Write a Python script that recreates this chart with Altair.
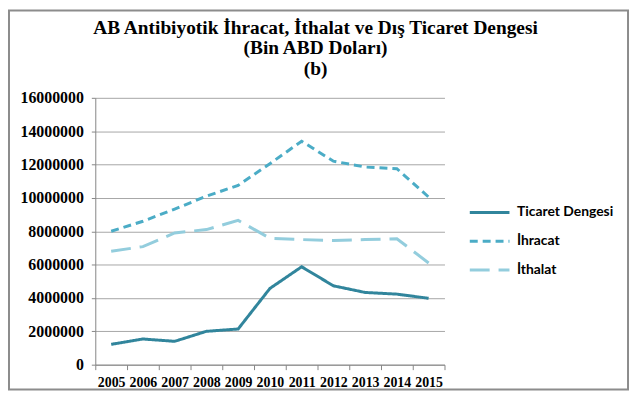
import altair as alt
import pandas as pd

years = ["2005", "2006", "2007", "2008", "2009", "2010", "2011", "2012", "2013", "2014", "2015"]
ticaret = [1220000, 1540000, 1400000, 2000000, 2140000, 4570000, 5870000, 4730000, 4330000, 4230000, 3980000]
ihracat = [8000000, 8600000, 9330000, 10100000, 10750000, 12050000, 13400000, 12200000, 11850000, 11750000, 10050000]
ithalat = [6800000, 7080000, 7900000, 8100000, 8650000, 7580000, 7500000, 7450000, 7500000, 7550000, 6100000]
series_names = ["Ticaret Dengesi", "İhracat", "İthalat"]
title_lines = ["AB Antibiyotik İhracat, İthalat ve Dış Ticaret Dengesi", "(Bin ABD Doları)", "(b)"]
colors = ["#31859C", "#4BACC6", "#93CDDD"]
dashes = [[1, 0], [8, 5], [20, 9]]
y_ticks = [0, 2000000, 4000000, 6000000, 8000000, 10000000, 12000000, 14000000, 16000000]

rows = []
for name, vals in zip(series_names, [ticaret, ihracat, ithalat]):
    for yr, v in zip(years, vals):
        rows.append({"Yıl": yr, "Değer": v, "Seri": name})
df = pd.DataFrame(rows)

W, H = 352, 269
PL, PT, PR, PB = 88, 89, 187, 27

lines = alt.Chart(df).mark_line(strokeWidth=3).encode(
    x=alt.X("Yıl:N", sort=years, scale=alt.Scale(paddingInner=0, paddingOuter=0, domain=years), axis=alt.Axis(
        title=None, labelAngle=0, tickBand="extent", tickSize=5, labelPadding=6,
        labelFont="Liberation Serif", labelFontWeight="bold", labelFontSize=14, labelColor="#000000",
        domainColor="#868686", tickColor="#868686", grid=False)),
    y=alt.Y("Değer:Q", scale=alt.Scale(domain=[0, 16000000], nice=False), axis=alt.Axis(
        title=None, values=y_ticks, format="d", tickSize=4, labelPadding=8,
        labelFont="Liberation Serif", labelFontWeight="bold", labelFontSize=16, labelColor="#000000",
        domainColor="#868686", tickColor="#868686", gridColor="#A6A6A6", gridWidth=1)),
    color=alt.Color("Seri:N", scale=alt.Scale(domain=series_names, range=colors), sort=series_names,
                    legend=alt.Legend(title=None)),
    strokeDash=alt.StrokeDash("Seri:N", scale=alt.Scale(domain=series_names, range=dashes), sort=series_names,
                              legend=alt.Legend(title=None)),
)

frame_df = pd.DataFrame({"k": [0]})
frame = alt.Chart(frame_df).mark_rect(fill=None, stroke="#8C8C8C", strokeWidth=2).encode(
    x=alt.value(-PL + 1), x2=alt.value(W + PR - 2), y=alt.value(-PT + 1), y2=alt.value(H + PB - 2)
)

title_y = [-64, -44, -23]
title_layers = []
for txt, ty in zip(title_lines, title_y):
    tdf = pd.DataFrame({"t": [txt]})
    title_layers.append(
        alt.Chart(tdf).mark_text(font="Liberation Serif", fontSize=19.5, fontWeight="bold", color="#000000",
                                 align="center", baseline="alphabetic").encode(
            text="t:N", x=alt.value(222), y=alt.value(ty))
    )

chart = alt.layer(frame, *title_layers, lines).properties(
    width=W, height=H,
    padding={"left": PL, "top": PT, "right": PR, "bottom": PB},
    autosize=alt.AutoSizeParams(type="none"),
).configure_view(stroke=None).configure_legend(
    orient="none", legendX=376, legendY=94, symbolType="stroke", symbolSize=1600, symbolStrokeWidth=3,
    labelFont="Lato", labelFontWeight="bold", labelFontSize=14, labelColor="#000000",
    rowPadding=-12, labelOffset=6,
)

chart.save("out.html", embed_options={"renderer": "svg", "actions": False})
